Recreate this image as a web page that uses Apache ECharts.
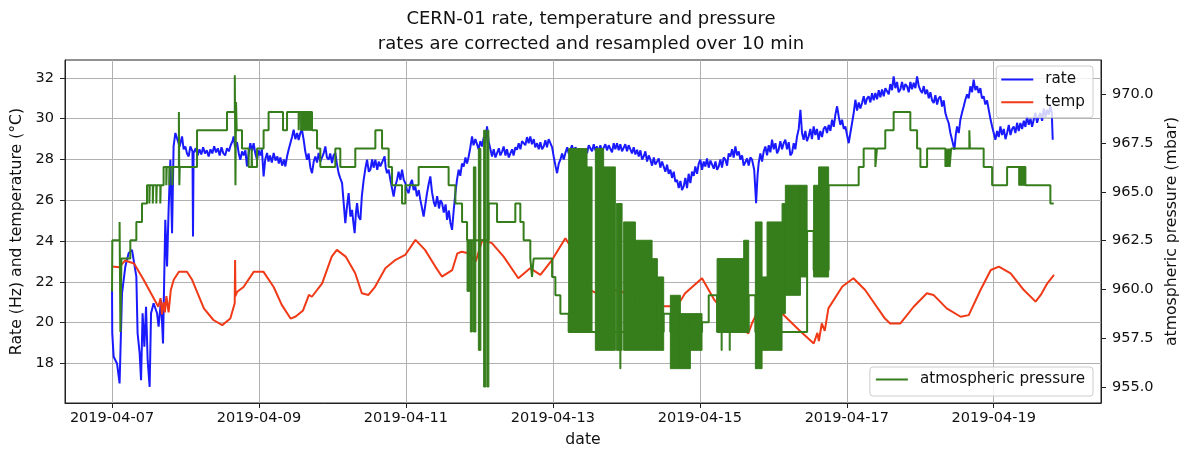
<!DOCTYPE html>
<html lang="en">
<head>
<meta charset="UTF-8">
<title>CERN-01 rate, temperature and pressure</title>
<style>
    html, body { margin: 0; padding: 0; background: #fff; }
    #main { width: 1182px; height: 454px; }
</style>
</head>
<body>
<div id="main"></div>
<script src="https://cdn.jsdelivr.net/npm/echarts@6.0.0/dist/echarts.min.js"></script>
<script>
// x values are days since 2019-04-07 00:00
var startDay = Date.UTC(2019, 3, 7);
var dateTicks = [0, 2, 4, 6, 8, 10, 12];
var leftTicks = [18, 20, 22, 24, 26, 28, 30, 32];
var rightTicks = [955, 957.5, 960, 962.5, 965, 967.5, 970];

// rate (Hz)
var rateData = [
    [0.000, 21.7], [0.003, 19.5], [0.022, 18.33], [0.068, 18.0], [0.103, 17.02], [0.136, 21.44],
    [0.181, 22.75], [0.226, 23.4], [0.272, 23.57], [0.294, 23.08], [0.331, 22.26], [0.348, 19.48],
    [0.376, 18.5], [0.395, 17.18], [0.416, 20.46], [0.440, 18.82], [0.463, 20.78], [0.485, 18.16],
    [0.512, 16.85], [0.531, 20.46], [0.566, 20.95], [0.613, 20.46], [0.634, 19.8], [0.667, 21.11],
    [0.694, 18.98], [0.725, 25.04], [0.749, 22.75], [0.770, 25.53], [0.794, 27.99], [0.817, 24.39],
    [0.838, 28.64], [0.862, 29.30], [0.885, 29.38], [0.920, 28.64], [0.953, 29.13], [0.975, 28.5],
    [0.998, 28.64], [1.020, 28.3], [1.043, 28.15], [1.066, 28.64], [1.095, 28.4], [1.102, 24.22],
    [1.110, 28.32], [1.140, 28.55], [1.165, 28.2], [1.190, 28.5], [1.215, 28.25], [1.240, 28.6],
    [1.265, 28.3], [1.290, 28.45], [1.315, 28.15], [1.340, 28.5], [1.365, 28.3], [1.390, 28.65],
    [1.415, 28.35], [1.440, 28.55], [1.465, 28.2], [1.490, 28.6], [1.515, 28.3], [1.540, 28.2],
    [1.565, 28.55], [1.590, 28.4], [1.615, 28.7], [1.640, 28.9], [1.655, 29.13], [1.675, 28.6],
    [1.701, 28.85], [1.725, 28.3], [1.746, 27.99], [1.770, 28.4], [1.791, 28.2], [1.815, 28.45],
    [1.837, 27.66], [1.860, 28.3], [1.882, 28.8], [1.905, 28.4], [1.927, 28.8], [1.950, 28.3],
    [1.974, 27.99], [1.995, 28.45], [2.018, 28.2], [2.040, 28.5], [2.063, 27.17], [2.085, 28.0],
    [2.110, 28.32], [2.130, 27.9], [2.150, 28.2], [2.175, 27.85], [2.200, 28.32], [2.225, 27.95],
    [2.250, 28.15], [2.270, 27.8], [2.291, 28.1], [2.315, 27.7], [2.340, 28.0], [2.359, 27.66],
    [2.385, 28.2], [2.405, 28.5], [2.427, 28.8], [2.450, 29.1], [2.472, 29.46], [2.495, 29.0],
    [2.520, 29.3], [2.540, 28.95], [2.563, 29.3], [2.585, 29.46], [2.608, 28.97], [2.630, 28.4],
    [2.654, 27.99], [2.675, 28.3], [2.700, 27.6], [2.722, 27.33], [2.745, 27.9], [2.767, 28.15],
    [2.790, 27.85], [2.812, 28.32], [2.835, 27.9], [2.858, 27.83], [2.880, 28.3], [2.903, 28.64],
    [2.925, 28.1], [2.948, 27.99], [2.970, 28.3], [2.994, 27.83], [3.015, 28.2], [3.039, 28.32],
    [3.060, 27.8], [3.084, 27.33], [3.105, 27.1], [3.131, 26.84], [3.150, 26.0], [3.175, 24.88],
    [3.195, 25.6], [3.220, 26.35], [3.245, 25.2], [3.267, 25.53], [3.285, 24.9], [3.302, 24.39],
    [3.320, 25.4], [3.335, 25.86], [3.355, 25.2], [3.380, 25.04], [3.400, 26.2], [3.425, 27.0],
    [3.450, 27.6], [3.471, 27.99], [3.495, 27.4], [3.516, 27.5], [3.540, 28.0], [3.560, 27.6],
    [3.584, 27.99], [3.610, 27.5], [3.630, 27.9], [3.652, 27.66], [3.680, 27.9], [3.710, 28.15],
    [3.725, 27.6], [3.743, 27.33], [3.765, 27.5], [3.788, 27.0], [3.810, 26.6], [3.833, 26.18],
    [3.855, 26.7], [3.879, 27.0], [3.900, 27.4], [3.925, 27.0], [3.947, 27.5], [3.970, 27.0],
    [3.992, 26.84], [4.015, 26.5], [4.037, 26.35], [4.060, 26.8], [4.083, 27.0], [4.105, 26.5],
    [4.128, 26.68], [4.150, 26.2], [4.175, 26.5], [4.196, 26.02], [4.220, 25.6], [4.241, 25.2],
    [4.265, 25.8], [4.287, 26.35], [4.310, 26.8], [4.332, 27.17], [4.355, 26.4], [4.380, 25.9],
    [4.400, 25.69], [4.425, 26.2], [4.450, 25.6], [4.470, 26.0], [4.492, 25.86], [4.515, 25.4],
    [4.540, 25.8], [4.560, 25.04], [4.585, 25.5], [4.605, 24.9], [4.628, 24.55], [4.650, 25.5],
    [4.673, 26.35], [4.695, 27.0], [4.718, 27.5], [4.740, 27.2], [4.763, 27.8], [4.786, 27.66],
    [4.810, 28.1], [4.832, 27.8], [4.854, 28.15], [4.877, 28.6], [4.900, 29.13], [4.920, 28.7],
    [4.945, 29.0], [4.968, 28.97], [4.990, 28.5], [5.013, 28.9], [5.036, 28.64], [5.060, 29.1],
    [5.080, 28.8], [5.104, 29.62], [5.125, 28.9], [5.150, 28.5], [5.172, 28.15], [5.195, 28.5],
    [5.218, 28.1], [5.240, 28.15], [5.265, 28.55], [5.285, 28.2], [5.310, 28.4], [5.330, 28.64],
    [5.355, 28.2], [5.375, 28.5], [5.400, 28.1], [5.421, 28.15], [5.445, 28.5], [5.465, 28.2],
    [5.490, 28.6], [5.512, 28.48], [5.535, 28.8], [5.558, 28.5], [5.580, 28.9], [5.602, 28.97],
    [5.625, 28.7], [5.648, 29.1], [5.670, 28.8], [5.693, 29.13], [5.715, 28.75], [5.740, 29.0],
    [5.760, 28.6], [5.785, 28.8], [5.808, 28.5], [5.830, 28.85], [5.853, 28.5], [5.875, 28.64],
    [5.898, 28.95], [5.920, 28.6], [5.943, 29.0], [5.966, 28.97], [5.990, 28.6], [6.011, 28.15],
    [6.035, 27.7], [6.057, 27.33], [6.080, 27.8], [6.102, 27.99], [6.125, 28.3], [6.148, 28.0],
    [6.170, 28.32], [6.195, 28.6], [6.215, 28.3], [6.238, 28.48], [6.260, 28.7], [6.283, 28.35],
    [6.306, 28.6], [6.329, 28.48], [6.352, 28.2], [6.375, 28.55], [6.397, 28.3], [6.419, 28.15],
    [6.442, 28.5], [6.465, 28.3], [6.488, 28.7], [6.510, 28.64], [6.533, 28.4], [6.556, 28.75],
    [6.578, 28.45], [6.601, 28.64], [6.624, 28.35], [6.646, 28.7], [6.668, 28.4], [6.691, 28.48],
    [6.714, 28.75], [6.737, 28.45], [6.760, 28.7], [6.782, 28.64], [6.805, 28.35], [6.828, 28.8],
    [6.850, 28.5], [6.873, 28.8], [6.896, 28.45], [6.918, 28.75], [6.941, 28.4], [6.963, 28.48],
    [6.986, 28.75], [7.009, 28.4], [7.031, 28.7], [7.054, 28.64], [7.077, 28.3], [7.100, 28.6],
    [7.123, 28.25], [7.146, 28.48], [7.169, 28.15], [7.191, 28.45], [7.214, 28.0], [7.236, 28.15],
    [7.259, 28.4], [7.282, 27.9], [7.305, 28.2], [7.327, 27.99], [7.350, 27.7], [7.373, 28.1],
    [7.395, 27.75], [7.418, 27.83], [7.441, 28.05], [7.463, 27.6], [7.486, 27.9], [7.508, 27.66],
    [7.531, 27.4], [7.554, 27.75], [7.576, 27.3], [7.599, 27.5], [7.622, 27.1], [7.645, 27.4],
    [7.667, 26.9], [7.690, 27.0], [7.713, 26.6], [7.736, 26.95], [7.758, 26.5], [7.780, 26.68],
    [7.803, 27.1], [7.826, 26.6], [7.848, 27.3], [7.871, 26.84], [7.894, 27.4], [7.917, 27.2],
    [7.939, 27.66], [7.962, 27.3], [7.985, 27.8], [8.007, 27.99], [8.030, 27.5], [8.053, 27.9],
    [8.075, 27.66], [8.098, 28.05], [8.121, 27.6], [8.144, 27.95], [8.167, 27.99], [8.190, 27.55],
    [8.213, 27.9], [8.235, 27.5], [8.257, 27.66], [8.280, 28.0], [8.302, 27.6], [8.325, 28.1],
    [8.348, 27.99], [8.371, 27.7], [8.393, 28.3], [8.416, 28.15], [8.439, 28.5], [8.461, 28.1],
    [8.484, 28.64], [8.507, 28.2], [8.530, 28.4], [8.552, 27.99], [8.575, 28.2], [8.597, 27.7],
    [8.620, 27.66], [8.643, 28.05], [8.665, 27.7], [8.688, 28.1], [8.711, 27.99], [8.740, 27.5],
    [8.766, 25.86], [8.785, 27.2], [8.801, 27.83], [8.824, 28.3], [8.847, 27.9], [8.870, 28.4],
    [8.892, 28.64], [8.915, 28.2], [8.938, 28.7], [8.960, 28.35], [8.983, 28.97], [9.006, 28.5],
    [9.029, 28.8], [9.051, 28.3], [9.073, 28.48], [9.096, 28.9], [9.119, 28.5], [9.141, 28.8],
    [9.164, 28.97], [9.187, 28.5], [9.210, 28.85], [9.232, 28.2], [9.255, 28.32], [9.278, 28.8],
    [9.300, 28.5], [9.323, 29.13], [9.346, 29.5], [9.369, 30.44], [9.391, 29.3], [9.413, 28.97],
    [9.436, 29.4], [9.458, 28.9], [9.481, 29.13], [9.504, 29.5], [9.526, 29.0], [9.549, 29.62],
    [9.572, 29.2], [9.594, 29.5], [9.617, 28.97], [9.640, 29.4], [9.663, 29.1], [9.685, 29.5],
    [9.708, 29.62], [9.731, 29.3], [9.754, 29.7], [9.777, 29.4], [9.800, 29.95], [9.823, 29.6],
    [9.845, 30.2], [9.868, 30.61], [9.891, 30.1], [9.913, 29.7], [9.936, 29.95], [9.959, 29.5],
    [9.981, 29.62], [10.004, 29.2], [10.026, 28.8], [10.049, 29.3], [10.072, 29.79], [10.095, 30.3],
    [10.117, 30.93], [10.140, 30.4], [10.163, 30.8], [10.185, 30.5], [10.208, 30.77], [10.231, 31.1],
    [10.253, 30.7], [10.276, 31.0], [10.298, 31.1], [10.321, 30.8], [10.344, 31.25], [10.366, 30.9],
    [10.389, 31.26], [10.412, 30.95], [10.435, 31.4], [10.457, 31.05], [10.480, 31.43], [10.503, 31.1],
    [10.525, 31.5], [10.548, 31.59], [10.571, 31.2], [10.593, 31.7], [10.616, 31.4], [10.638, 32.08],
    [10.661, 31.5], [10.684, 31.8], [10.706, 31.3], [10.729, 31.43], [10.752, 31.8], [10.775, 31.4],
    [10.797, 31.7], [10.820, 31.59], [10.843, 31.3], [10.866, 31.8], [10.888, 31.45], [10.911, 31.76],
    [10.934, 31.5], [10.957, 32.08], [10.980, 31.6], [11.002, 31.4], [11.025, 31.26], [11.048, 31.6],
    [11.070, 31.2], [11.093, 31.43], [11.116, 31.0], [11.138, 31.3], [11.161, 30.9], [11.183, 30.77],
    [11.206, 31.15], [11.229, 30.7], [11.251, 31.0], [11.274, 31.1], [11.297, 30.6], [11.320, 30.9],
    [11.342, 30.28], [11.365, 30.0], [11.387, 29.79], [11.410, 29.3], [11.433, 28.97], [11.450, 28.7],
    [11.465, 28.48], [11.483, 29.2], [11.501, 29.62], [11.524, 29.3], [11.546, 29.95], [11.569, 30.3],
    [11.591, 30.6], [11.614, 30.93], [11.637, 31.2], [11.659, 31.0], [11.682, 31.59], [11.705, 31.3],
    [11.727, 31.92], [11.750, 31.4], [11.773, 31.6], [11.795, 31.26], [11.818, 31.5], [11.840, 31.0],
    [11.863, 31.1], [11.886, 30.7], [11.909, 30.9], [11.932, 30.44], [11.955, 30.0], [11.978, 29.62],
    [12.000, 29.3], [12.023, 28.97], [12.046, 29.4], [12.068, 29.1], [12.091, 29.62], [12.114, 29.2],
    [12.137, 29.5], [12.160, 29.0], [12.182, 29.3], [12.205, 29.7], [12.228, 29.2], [12.250, 29.5],
    [12.272, 29.62], [12.295, 29.3], [12.318, 29.8], [12.340, 29.4], [12.363, 29.79], [12.386, 29.5],
    [12.409, 29.9], [12.431, 29.6], [12.454, 30.11], [12.477, 29.7], [12.500, 30.0], [12.522, 29.6],
    [12.544, 29.95], [12.567, 30.3], [12.590, 29.8], [12.612, 30.1], [12.635, 30.28], [12.658, 29.9],
    [12.681, 30.5], [12.703, 30.1], [12.726, 30.44], [12.749, 30.2], [12.771, 30.61], [12.790, 30.3],
    [12.803, 28.97]
];

// temperature (°C)
var tempData = [
    [0.00, 22.75], [0.10, 22.72], [0.18, 23.05], [0.30, 22.9], [0.43, 22.1], [0.63, 20.78],
    [0.66, 21.2], [0.68, 20.4], [0.70, 21.0], [0.72, 20.5], [0.74, 21.3], [0.77, 20.5],
    [0.80, 21.6], [0.84, 22.1], [0.91, 22.5], [1.02, 22.5], [1.09, 22.1], [1.25, 20.7],
    [1.38, 20.13], [1.50, 19.88], [1.61, 20.2], [1.67, 20.95], [1.675, 23.07], [1.68, 21.3],
    [1.70, 21.5], [1.79, 21.75], [1.93, 22.5], [2.06, 22.5], [2.20, 21.75], [2.31, 20.87],
    [2.43, 20.2], [2.50, 20.3], [2.60, 20.6], [2.68, 21.36], [2.72, 21.27], [2.86, 21.93],
    [2.99, 23.24], [3.06, 23.57], [3.18, 23.24], [3.31, 22.42], [3.40, 21.44], [3.49, 21.36],
    [3.58, 21.76], [3.72, 22.67], [3.86, 23.08], [3.99, 23.32], [4.13, 24.06], [4.26, 23.57],
    [4.40, 22.75], [4.49, 22.26], [4.63, 22.58], [4.70, 23.4], [4.76, 23.48], [4.85, 23.4],
    [4.95, 23.0], [5.04, 24.06], [5.17, 23.9], [5.33, 23.24], [5.53, 22.18], [5.69, 22.67],
    [5.83, 22.34], [5.99, 23.08], [6.17, 24.14], [6.24, 23.73], [6.51, 21.6], [6.60, 21.44],
    [6.87, 21.6], [7.19, 21.2], [7.50, 20.8], [7.69, 20.8], [7.80, 21.44], [8.03, 22.18],
    [8.20, 21.1], [8.39, 20.3], [8.66, 19.47], [8.71, 19.97], [8.89, 21.27], [9.12, 20.45],
    [9.35, 19.64], [9.55, 18.98], [9.60, 19.5], [9.62, 19.1], [9.66, 19.96], [9.70, 19.6],
    [9.75, 20.7], [9.94, 21.77], [10.09, 22.18], [10.25, 21.6], [10.52, 20.2], [10.59, 19.96],
    [10.73, 19.96], [10.91, 20.78], [11.09, 21.44], [11.18, 21.36], [11.36, 20.7], [11.55, 20.29],
    [11.66, 20.37], [11.82, 21.6], [11.96, 22.58], [12.07, 22.75], [12.23, 22.42], [12.41, 21.6],
    [12.57, 21.03], [12.64, 21.36], [12.73, 21.93], [12.82, 22.34]
];

// atmospheric pressure (mbar): [day it changes, new value]
var pressureData = [
    [0.000, 959.9], [0.004, 962.52], [0.103, 963.46], [0.114, 957.82], [0.128, 961.58],
    [0.249, 962.52], [0.331, 963.46], [0.408, 964.40], [0.476, 965.34],
    [0.508, 964.40], [0.514, 965.34], [0.555, 964.40], [0.561, 965.34],
    [0.603, 964.40], [0.609, 965.34], [0.657, 964.40], [0.663, 965.34],
    [0.702, 966.28], [0.739, 965.34], [0.745, 966.28], [0.780, 965.34], [0.786, 966.28],
    [0.821, 965.34], [0.827, 966.28], [0.910, 969.10], [0.916, 965.34], [0.922, 966.28],
    [1.157, 968.16], [1.565, 969.10], [1.671, 970.98], [1.680, 965.34], [1.688, 969.6],
    [1.697, 968.16], [1.769, 967.22], [1.859, 966.28], [1.900, 967.22], [1.906, 966.28],
    [1.974, 967.22], [2.063, 968.16], [2.131, 969.10], [2.327, 968.16], [2.382, 969.10],
    [2.540, 968.16], [2.546, 969.10], [2.722, 968.16], [2.790, 967.22], [2.835, 966.28],
    [3.039, 967.22], [3.107, 966.28], [3.311, 967.22], [3.584, 968.16], [3.675, 967.22],
    [3.765, 966.28], [3.811, 965.34], [3.947, 964.40], [3.992, 965.34], [4.173, 966.28],
    [4.581, 965.34], [4.673, 964.40], [4.764, 963.46], [4.832, 962.52], [5.126, 964.40],
    [5.240, 963.46], [5.489, 964.40], [5.557, 963.46], [5.602, 962.52], [5.693, 961.58],
    [5.716, 960.64], [5.738, 961.58], [5.989, 960.64], [6.034, 959.70], [6.102, 958.76],
    [6.215, 957.82], [7.508, 958.76], [7.599, 957.82], [8.030, 958.32], [8.121, 959.70],
    [8.235, 957.82], [8.665, 959.70], [8.756, 957.82], [9.460, 963.0], [9.549, 961.0],
    [9.753, 965.34], [10.162, 966.28], [10.230, 967.22], [10.389, 966.28], [10.411, 967.22],
    [10.524, 968.16], [10.638, 969.10], [10.865, 968.16], [10.957, 967.22], [11.002, 966.28],
    [11.093, 967.22], [11.342, 966.28], [11.360, 967.22], [11.370, 966.28], [11.390, 967.22],
    [11.400, 966.28], [11.420, 967.22], [11.668, 968.16], [11.676, 967.22], [11.863, 966.28],
    [11.978, 965.34], [12.182, 966.28], [12.431, 965.34], [12.771, 964.40], [12.817, 964.40]
];

// stretches where the pressure flips between two levels every sample: [from, to, low, high]
var pressureBursts = [
    [2.563, 2.722, 968.16, 969.10],
    [4.832, 4.868, 959.90, 962.52], [4.877, 4.904, 957.82, 962.52], [4.918, 4.952, 957.82, 966.28],
    [4.986, 5.020, 956.88, 967.22], [5.058, 5.088, 955.00, 968.16], [5.102, 5.129, 955.00, 968.16],
    [6.215, 6.465, 957.82, 967.22], [6.465, 6.533, 957.82, 966.28], [6.578, 6.691, 956.88, 967.22],
    [6.691, 6.850, 956.88, 966.28], [6.864, 6.942, 956.88, 964.40], [6.912, 6.925, 955.94, 964.40],
    [6.963, 7.123, 956.88, 963.46], [7.123, 7.350, 956.88, 962.52], [7.350, 7.422, 956.88, 961.58],
    [7.422, 7.508, 956.88, 960.64], [7.599, 7.735, 955.94, 959.70], [7.735, 7.871, 955.94, 958.76],
    [7.871, 8.030, 956.88, 958.76], [8.235, 8.597, 957.82, 961.58], [8.290, 8.300, 956.88, 957.82],
    [8.400, 8.410, 956.88, 957.82], [8.597, 8.665, 957.82, 962.52], [8.756, 8.847, 955.94, 963.46],
    [8.847, 8.915, 956.88, 960.64], [8.915, 9.119, 956.88, 963.46], [9.119, 9.164, 958.76, 964.40],
    [9.164, 9.369, 959.70, 965.34], [9.369, 9.460, 960.64, 965.34], [9.549, 9.617, 960.64, 965.34],
    [9.617, 9.753, 960.64, 966.28],
    [12.340, 12.431, 965.34, 966.28]
];

var blue = '#1a1aff';
var red = '#f03a17';
var green = '#367d1c';
var font = 'DejaVu Sans';
var lineIcon = 'path://M0,0L32,0L32,2L0,2Z';

function dayLabel(v) {
    var d = new Date(startDay + Math.round(v) * 86400000);
    return d.toISOString().slice(0, 10);
}

function renderBurst(params, api) {
    var a = api.coord([api.value(0), api.value(3)]);
    var b = api.coord([api.value(1), api.value(2)]);
    return {
        type: 'rect',
        shape: { x: a[0], y: a[1], width: Math.max(b[0] - a[0], 1), height: b[1] - a[1] },
        style: { fill: green, stroke: green, lineWidth: 1 }
    };
}

var tickLabel = { fontFamily: font, fontSize: 14.5, color: '#111' };
var nameText = { fontFamily: font, fontSize: 15.7, color: '#111' };
var legendBox = {
    orient: 'vertical',
    icon: lineIcon,
    itemWidth: 32,
    itemHeight: 15,
    itemGap: 7.7,
    backgroundColor: 'rgba(255,255,255,0.8)',
    borderColor: '#cccccc',
    borderWidth: 1,
    borderRadius: 3,
    textStyle: { fontFamily: font, fontSize: 15.2, color: '#111', padding: [0, 0, 0, 7] }
};

var option = {
    animation: false,
    backgroundColor: '#fff',
    textStyle: { fontFamily: font },
    title: {
        text: 'CERN-01 rate, temperature and pressure\nrates are corrected and resampled over 10 min',
        left: 'center',
        top: 7,
        padding: [0, 16, 0, 0],
        textStyle: { fontFamily: font, fontSize: 18, fontWeight: 'normal', color: '#111', lineHeight: 25 }
    },
    legend: [
        Object.assign({ data: ['rate', 'temp'], right: 89, top: 66, padding: [6, 8, 8, 5] }, legendBox),
        Object.assign({ data: ['atmospheric pressure'], right: 89, bottom: 58, padding: [5, 8, 9, 6] }, legendBox)
    ],
    grid: {
        left: 65,
        right: 81,
        top: 60,
        bottom: 51,
        show: true,
        borderColor: '#222',
        borderWidth: 1,
        backgroundColor: 'transparent',
        outerBoundsMode: 'none'
    },
    xAxis: {
        type: 'value',
        min: -0.64,
        max: 13.46,
        name: 'date',
        nameLocation: 'middle',
        nameGap: 29,
        nameTextStyle: nameText,
        axisLine: { show: true, onZero: false, lineStyle: { color: '#222', width: 1 } },
        axisTick: { show: true, length: 5, customValues: dateTicks, lineStyle: { color: '#222' } },
        axisLabel: Object.assign({ margin: 8, customValues: dateTicks, formatter: dayLabel }, tickLabel),
        splitLine: { show: true, lineStyle: { color: '#b0b0b0', width: 1 } }
    },
    yAxis: [{
        type: 'value',
        position: 'left',
        min: 16.06,
        max: 32.88,
        name: 'Rate (Hz) and temperature (°C)',
        nameLocation: 'middle',
        nameGap: 34,
        nameTextStyle: nameText,
        axisLine: { show: true, onZero: false, lineStyle: { color: '#222', width: 1 } },
        axisTick: { show: true, length: 5, customValues: leftTicks, lineStyle: { color: '#222' } },
        axisLabel: Object.assign({ margin: 11, customValues: leftTicks }, tickLabel),
        splitLine: { show: true, lineStyle: { color: '#b0b0b0', width: 1 } }
    }, {
        type: 'value',
        position: 'right',
        min: 954.18,
        max: 971.76,
        name: 'atmospheric pressure (mbar)',
        nameLocation: 'middle',
        nameGap: 57,
        nameTextStyle: nameText,
        axisLine: { show: true, onZero: false, lineStyle: { color: '#222', width: 1 } },
        axisTick: { show: true, length: 5, customValues: rightTicks, lineStyle: { color: '#222' } },
        axisLabel: Object.assign({
            margin: 11,
            customValues: rightTicks,
            formatter: function (v) { return v.toFixed(1); }
        }, tickLabel),
        splitLine: { show: false }
    }],
    series: [{
        name: 'rate',
        type: 'line',
        yAxisIndex: 0,
        data: rateData,
        symbol: 'none',
        z: 2,
        lineStyle: { color: blue, width: 2 },
        itemStyle: { color: blue }
    }, {
        name: 'temp',
        type: 'line',
        yAxisIndex: 0,
        data: tempData,
        symbol: 'none',
        z: 2,
        lineStyle: { color: red, width: 2 },
        itemStyle: { color: red }
    }, {
        name: 'atmospheric pressure',
        type: 'line',
        yAxisIndex: 1,
        step: 'end',
        data: pressureData,
        symbol: 'none',
        z: 3,
        lineStyle: { color: green, width: 2 },
        itemStyle: { color: green }
    }, {
        name: 'pressure bursts',
        type: 'custom',
        yAxisIndex: 1,
        data: pressureBursts,
        renderItem: renderBurst,
        encode: { x: [0, 1], y: [2, 3] },
        silent: true,
        z: 3
    }]
};

var myChart = echarts.init(document.getElementById('main'));
myChart.setOption(option);
</script>
</body>
</html>
